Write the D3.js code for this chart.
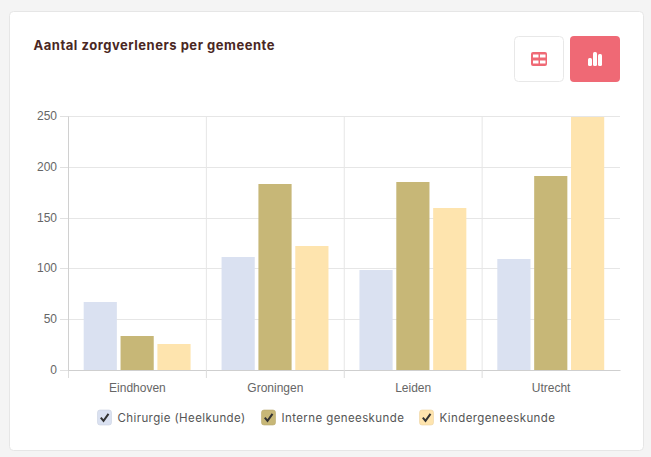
<!DOCTYPE html>
<html>
<head>
<meta charset="utf-8">
<script src="https://cdn.jsdelivr.net/npm/d3@7"></script>
<style>
    html, body { margin: 0; padding: 0; background: #f4f4f4; overflow: hidden; }
    #chart { display: block; }
</style>
</head>
<body>
<div id="chart"></div>
<script>
const categories = ["Eindhoven", "Groningen", "Leiden", "Utrecht"];
const seriesNames = ["Chirurgie (Heelkunde)", "Interne geneeskunde", "Kindergeneeskunde"];
const chirurgie = [67, 111, 98, 109];
const interne = [33, 183, 185, 191];
const kinder = [26, 122, 159, 249];
const colors = ["#dae1f1", "#c7b777", "#fee4ae"];
const yTicks = [0, 50, 100, 150, 200, 250];
const titleText = "Aantal zorgverleners per gemeente";

const width = 651;
const height = 457;
const margin = { top: 116, right: 31, bottom: 87, left: 68.5 };
const labelFont = "Inter, sans-serif";

const svg = d3.select("#chart").append("svg")
    .attr("width", width)
    .attr("height", height);

// card
svg.append("rect")
    .attr("x", 9.5).attr("y", 11.5)
    .attr("width", 634).attr("height", 439)
    .attr("rx", 4)
    .attr("fill", "#fff")
    .attr("stroke", "#e6e6e6");

svg.append("text")
    .attr("x", 33.5).attr("y", 50)
    .attr("font-family", labelFont)
    .attr("font-size", 13)
    .attr("font-weight", 700)
    .attr("letter-spacing", 0.52)
    .attr("fill", "#4a2723")
    .text(titleText);

drawButtons();

const x = d3.scaleBand()
    .domain(categories)
    .range([margin.left, width - margin.right]);

const x1 = d3.scaleBand()
    .domain(seriesNames)
    .range([0, x.bandwidth()])
    .paddingInner(0.1)
    .paddingOuter(0.42);

const y = d3.scaleLinear()
    .domain([0, 250])
    .rangeRound([height - margin.bottom, margin.top]);

// grid
svg.append("g").selectAll("line")
    .data(yTicks)
    .join("line")
    .attr("x1", margin.left).attr("x2", width - margin.right)
    .attr("y1", d => y(d) + 0.5).attr("y2", d => y(d) + 0.5)
    .attr("stroke", "#e6e6e6");

svg.append("g").selectAll("line")
    .data(categories.slice(1))
    .join("line")
    .attr("x1", d => x(d)).attr("x2", d => x(d))
    .attr("y1", margin.top).attr("y2", y(0))
    .attr("stroke", "#e6e6e6");

// bars
const allSeries = [chirurgie, interne, kinder];
allSeries.forEach((values, s) => {
    svg.append("g")
        .selectAll("rect")
        .data(values)
        .join("rect")
        .attr("x", (d, i) => x(categories[i]) + x1(seriesNames[s]) - 0.3)
        .attr("y", d => y(d))
        .attr("width", x1.bandwidth())
        .attr("height", d => y(0) - y(d))
        .attr("fill", colors[s]);
});

// axes
const xAxis = svg.append("g")
    .attr("transform", `translate(0,${y(0)})`)
    .call(d3.axisBottom(x).tickSize(0).tickPadding(13));
xAxis.select(".domain").attr("stroke", "#cfcfcf");
xAxis.selectAll("text")
    .attr("font-family", "'Liberation Sans', sans-serif")
    .attr("font-size", 12)
    .attr("fill", "#666");

svg.append("g").selectAll("line")
    .data(categories)
    .join("line")
    .attr("x1", d => x(d)).attr("x2", d => x(d))
    .attr("y1", y(0)).attr("y2", y(0) + 8)
    .attr("stroke", "#dcdcdc");

const yAxis = svg.append("g")
    .attr("transform", `translate(${margin.left - 0.5},0)`)
    .call(d3.axisLeft(y).tickValues(yTicks).tickSize(8).tickPadding(3));
yAxis.select(".domain").attr("stroke", "#d0d0d0");
yAxis.selectAll(".tick line").attr("stroke", "#e0e0e0");
yAxis.selectAll("text")
    .attr("font-family", "'Liberation Sans', sans-serif")
    .attr("font-size", 12)
    .attr("fill", "#666");

drawLegend();

function drawLegend() {
    const starts = [97.5, 261.5, 419.5];
    const g = svg.append("g");
    seriesNames.forEach((name, i) => {
        const item = g.append("g").attr("transform", `translate(${starts[i]},410)`);
        item.append("rect")
            .attr("width", 14).attr("height", 15).attr("rx", 2.5)
            .attr("fill", colors[i])
            .attr("stroke", d3.color(colors[i]).darker(0.2))
            .attr("stroke-width", 0.6);
        item.append("path")
            .attr("d", "M3.3 7.6 L6 10.8 L11 3.8")
            .attr("fill", "none")
            .attr("stroke", "#333")
            .attr("stroke-width", 2);
        item.append("text")
            .attr("x", 20).attr("y", 12)
            .attr("font-family", labelFont)
            .attr("font-size", 11.5)
            .attr("letter-spacing", 0.4)
            .attr("fill", "#555")
            .text(name);
    });
}

function drawButtons() {
    const red = "#ef6975";
    svg.append("rect")
        .attr("x", 514.5).attr("y", 36.5)
        .attr("width", 49).attr("height", 45).attr("rx", 4)
        .attr("fill", "#fff").attr("stroke", "#e8e8e8");
    svg.append("rect")
        .attr("x", 570).attr("y", 36)
        .attr("width", 50).attr("height", 46).attr("rx", 4)
        .attr("fill", red);

    // table icon
    svg.append("rect")
        .attr("x", 531).attr("y", 52)
        .attr("width", 16).attr("height", 14).attr("rx", 2)
        .attr("fill", red);
    [[533, 54.5], [540, 54.5], [533, 60.5], [540, 60.5]].forEach(c => {
        svg.append("rect")
            .attr("x", c[0]).attr("y", c[1])
            .attr("width", 5.5).attr("height", 3)
            .attr("fill", "#fff");
    });

    // bars icon
    [[588, 58, 4, 8], [593, 52, 4, 14], [598, 54, 4, 12]].forEach(b => {
        svg.append("rect")
            .attr("x", b[0]).attr("y", b[1])
            .attr("width", b[2]).attr("height", b[3]).attr("rx", 1.5)
            .attr("fill", "#fff");
    });
}
</script>
</body>
</html>
